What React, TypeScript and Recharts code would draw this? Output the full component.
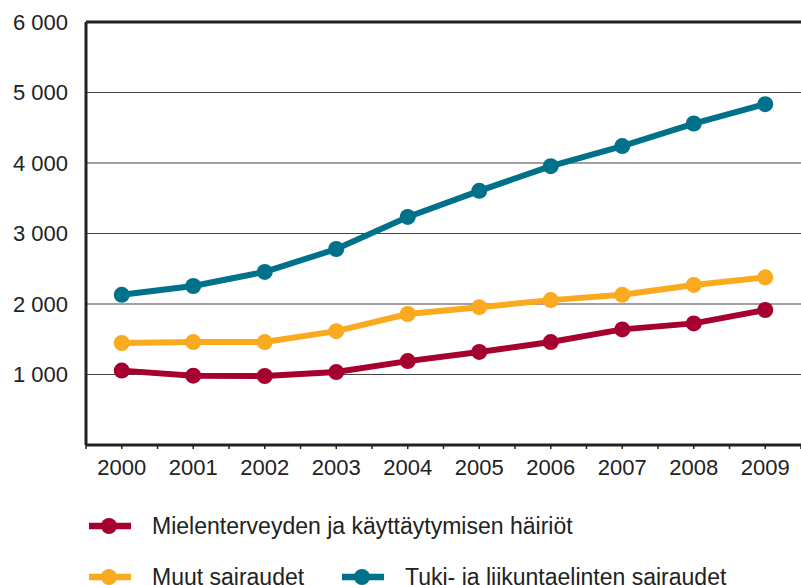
import { LineChart, Line, XAxis, YAxis, CartesianGrid, ReferenceLine } from "recharts";

const years = [2000, 2001, 2002, 2003, 2004, 2005, 2006, 2007, 2008, 2009];
const mental = [1055, 983, 979, 1035, 1190, 1320, 1460, 1640, 1725, 1915];
const other = [1447, 1460, 1460, 1615, 1858, 1955, 2055, 2130, 2270, 2378];
const musculo = [2130, 2255, 2455, 2780, 3235, 3605, 3955, 4240, 4560, 4835];
const yTicks = [0, 1000, 2000, 3000, 4000, 5000, 6000];
const xTicks = [1999.5, 2000, 2000.5, 2001, 2001.5, 2002, 2002.5, 2003, 2003.5, 2004, 2004.5, 2005, 2005.5, 2006, 2006.5, 2007, 2007.5, 2008, 2008.5, 2009, 2009.5];

const RED = "#a5002f";
const YELLOW = "#f9aa1f";
const TEAL = "#00718a";
const FONT = "'Liberation Sans', Arial, sans-serif";

const data = years.map((y, i) => ({
  year: y,
  mental: mental[i],
  other: other[i],
  musculo: musculo[i],
}));

const fmt = (v: number) => (v === 0 ? "" : String(v).replace(/\B(?=(\d{3})+(?!\d))/g, " "));

function Marker({ color }: { color: string }) {
  return (
    <svg width={42} height={18} style={{ display: "block" }}>
      <line x1={0} y1={9} x2={42} y2={9} stroke={color} strokeWidth={6.5} />
      <circle cx={20} cy={9} r={8} fill={color} />
    </svg>
  );
}

function LegendItem({ x, y, color, label }: { x: number; y: number; color: string; label: string }) {
  return (
    <div style={{ position: "absolute", left: x, top: y - 15, display: "flex", alignItems: "center", height: 30 }}>
      <Marker color={color} />
      <span style={{ marginLeft: 21, fontFamily: FONT, fontSize: 23, lineHeight: "30px", color: "#222", whiteSpace: "nowrap" }}>{label}</span>
    </div>
  );
}

export default function App() {
  return (
    <div style={{ position: "absolute", left: 0, top: 0, width: 801, height: 585, background: "#fff", overflow: "hidden" }}>
      <LineChart width={801} height={585} data={data} margin={{ top: 22, right: 0, left: 0, bottom: 0 }}>
        <CartesianGrid vertical={false} stroke="#444" strokeWidth={1.2} />
        <XAxis
          dataKey="year"
          type="number"
          domain={[1999.5, 2009.5]}
          ticks={xTicks}
          interval={0}
          tickFormatter={(v: number) => (Number.isInteger(v) ? String(v) : "")}
          axisLine={{ stroke: "#222", strokeWidth: 3 }}
          tickLine={{ stroke: "#222", strokeWidth: 1.5 }}
          tickSize={4}
          tickMargin={10}
          height={140}
          tick={{ fontFamily: FONT, fontSize: 22, fill: "#222" }}
        />
        <YAxis
          domain={[0, 6000]}
          ticks={yTicks}
          interval={0}
          tickFormatter={fmt}
          axisLine={{ stroke: "#222", strokeWidth: 3 }}
          tickLine={false}
          tickSize={0}
          tickMargin={18}
          width={86}
          tick={{ fontFamily: FONT, fontSize: 22, fill: "#222" }}
        />
        <ReferenceLine y={6000} stroke="#222" strokeWidth={3} />
        <Line dataKey="mental" stroke={RED} strokeWidth={6} dot={{ r: 8, fill: RED, stroke: "none" }} isAnimationActive={false} />
        <Line dataKey="other" stroke={YELLOW} strokeWidth={6} dot={{ r: 8, fill: YELLOW, stroke: "none" }} isAnimationActive={false} />
        <Line dataKey="musculo" stroke={TEAL} strokeWidth={6} dot={{ r: 8, fill: TEAL, stroke: "none" }} isAnimationActive={false} />
      </LineChart>
      <LegendItem x={89} y={526} color={RED} label="Mielenterveyden ja käyttäytymisen häiriöt" />
      <LegendItem x={89} y={577} color={YELLOW} label="Muut sairaudet" />
      <LegendItem x={342} y={577} color={TEAL} label="Tuki- ja liikuntaelinten sairaudet" />
    </div>
  );
}
